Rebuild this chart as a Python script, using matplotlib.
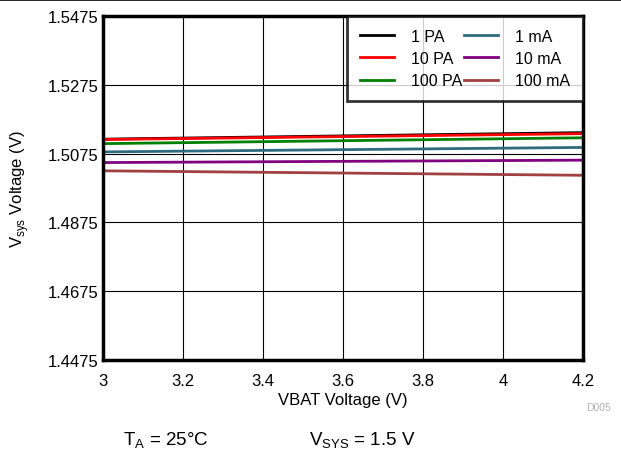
import numpy as np
import matplotlib.pyplot as plt

plt.rcParams['font.family'] = ['Liberation Sans', 'DejaVu Sans']

vbat = [3.0, 4.2]
labels = ["1 PA", "10 PA", "100 PA", "1 mA", "10 mA", "100 mA"]
colors = ["#000000", "#ff0000", "#008000", "#2e6a80", "#800080", "#a04040"]
vsys = [
    [1.5117, 1.5136],
    [1.5116, 1.5133],
    [1.5104, 1.5121],
    [1.5080, 1.5093],
    [1.5049, 1.5056],
    [1.5025, 1.5012],
]
yticks = [1.4475, 1.4675, 1.4875, 1.5075, 1.5275, 1.5475]
xticks = [3, 3.2, 3.4, 3.6, 3.8, 4, 4.2]

fig = plt.figure(figsize=(6.21, 4.56), dpi=100)
ax = fig.add_axes([0.1659, 0.2083, 0.7729, 0.7544])

for lab, c, y in zip(labels, colors, vsys):
    ax.plot(vbat, y, color=c, lw=2, label=lab)

ax.set_xlim(3, 4.2)
ax.set_ylim(1.4475, 1.5475)
ax.set_xticks(xticks)
ax.set_xticklabels(["3", "3.2", "3.4", "3.6", "3.8", "4", "4.2"])
ax.set_yticks(yticks)
ax.set_yticklabels(["%.4f" % t for t in yticks])
ax.tick_params(length=0, labelsize=12, pad=3)
ax.tick_params(axis="x", pad=9)
ax.grid(True, color="black", lw=0.8)
ax.set_axisbelow(True)
for s in ax.spines.values():
    s.set_linewidth(2.5)

ax.set_xlabel("VBAT Voltage (V)", fontsize=12, labelpad=3)
ax.set_ylabel("V$_{\\mathregular{sys}}$ Voltage (V)", fontsize=12, labelpad=12)

leg = ax.legend(ncol=2, loc="upper right", fontsize=11.5, frameon=True,
                fancybox=False, borderaxespad=0, handlelength=2.1,
                columnspacing=0.1, labelspacing=0.45, handletextpad=1.1,
                borderpad=0.8)
leg.get_frame().set_edgecolor("black")
leg.get_frame().set_linewidth(2)

fig.text(0.963, 0.098, "D005", color="#b0b0b0", fontsize=7.5, ha="center")
fig.text(0.267, 0.022, "T$_{\\mathregular{A}}$ = 25°C", fontsize=13.5, ha="center")
fig.text(0.583, 0.022, "V$_{\\mathregular{SYS}}$ = 1.5 V", fontsize=13.5, ha="center")
fig.add_artist(plt.Line2D([0, 1], [0.998, 0.998], color="black", lw=1.2,
                          transform=fig.transFigure))

fig.savefig("out.png", dpi=100)
